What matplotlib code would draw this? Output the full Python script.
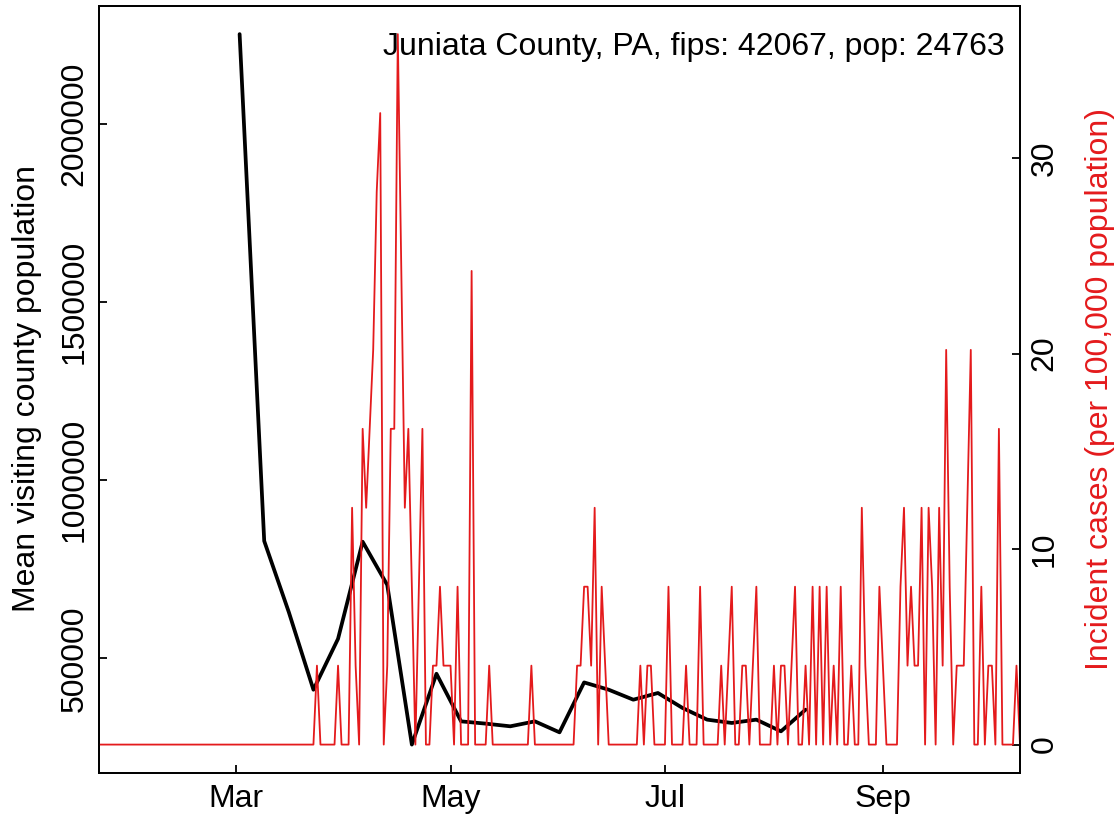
import numpy as np
import pandas as pd
import matplotlib
matplotlib.use('Agg')
import matplotlib.pyplot as plt
import matplotlib.dates as mdates

plt.rcParams['font.family'] = ['Liberation Sans', 'DejaVu Sans']

# county info
county_label = 'Juniata County, PA, fips: 42067, pop: 24763'
pop = 24763

# weekly mean visiting county population (Mondays from 2020-03-02)
visit_start = '2020-03-02'
visit_vals = [2252600, 829700, 630000, 412300, 555200, 827700, 706400, 258300,
              457100, 323500, 317100, 309600, 323500, 292700, 432800, 412300,
              384300, 403100, 361100, 328300, 319000, 328300, 295500, 356300]

# daily incident cases, 2020-01-22 .. 2020-10-10
case_start = '2020-01-22'
cases_jan = [0, 0, 0, 0, 0, 0, 0, 0, 0, 0]
cases_feb = [0, 0, 0, 0, 0, 0, 0, 0, 0, 0, 0, 0, 0, 0, 0, 0, 0, 0, 0, 0,
             0, 0, 0, 0, 0, 0, 0, 0, 0]
cases_mar = [0, 0, 0, 0, 0, 0, 0, 0, 0, 0, 0, 0, 0, 0, 0, 0, 0, 0, 0, 0,
             0, 0, 0, 1, 0, 0, 0, 0, 0, 1, 0]
cases_apr = [0, 0, 3, 1, 0, 4, 3, 4, 5, 7, 8, 0, 1, 4, 4, 9, 6, 3, 4, 2,
             0, 2, 4, 0, 0, 1, 1, 2, 1, 1]
cases_may = [1, 0, 2, 0, 0, 0, 6, 0, 0, 0, 0, 1, 0, 0, 0, 0, 0, 0, 0, 0,
             0, 0, 0, 1, 0, 0, 0, 0, 0, 0, 0]
cases_jun = [0, 0, 0, 0, 0, 1, 1, 2, 2, 1, 3, 0, 2, 1, 0, 0, 0, 0, 0, 0,
             0, 0, 0, 1, 0, 1, 1, 0, 0, 0]
cases_jul = [0, 2, 0, 0, 0, 0, 1, 0, 0, 0, 2, 0, 0, 0, 0, 0, 1, 0, 1, 2,
             0, 0, 1, 1, 0, 1, 2, 0, 0, 0, 0]
cases_aug = [1, 0, 1, 1, 0, 1, 2, 0, 0, 1, 0, 2, 0, 2, 0, 2, 0, 1, 0, 2,
             0, 0, 1, 0, 0, 3, 1, 0, 0, 0, 2]
cases_sep = [1, 0, 0, 0, 0, 2, 3, 1, 2, 1, 1, 3, 0, 3, 2, 0, 3, 1, 5, 2,
             0, 1, 1, 1, 3, 5, 0, 0, 2, 0]
cases_oct = [1, 1, 0, 4, 0, 0, 0, 0, 1, 0]

cases = (cases_jan + cases_feb + cases_mar + cases_apr + cases_may + cases_jun
         + cases_jul + cases_aug + cases_sep + cases_oct)
incid = np.array(cases) / pop * 100000  # per 100,000 population

visit_dates = pd.date_range(visit_start, periods=len(visit_vals), freq='7D')
case_dates = pd.date_range(case_start, periods=len(cases), freq='D')

red = '#E41A1C'
fs = 23

fig = plt.figure(figsize=(11.19, 8.22), dpi=100)
ax = fig.add_axes([99 / 1119, 1 - 773 / 822, 921 / 1119, 767.3 / 822])

ax.plot(visit_dates, visit_vals, color='black', lw=2.7,
        solid_joinstyle='round', solid_capstyle='round')

# R style 4% padding on y
lo, hi = min(visit_vals), max(visit_vals)
pad = (hi - lo) * 0.04
ax.set_ylim(lo - pad, hi + pad)
ax.set_xlim(case_dates[0], case_dates[-1])

yt = [500000, 1000000, 1500000, 2000000]
ax.set_yticks(yt, labels=[str(v) for v in yt], rotation=90, va='center')
xt = pd.to_datetime(['2020-03-01', '2020-05-01', '2020-07-01', '2020-09-01'])
ax.set_xticks(xt)
ax.xaxis.set_major_formatter(mdates.DateFormatter('%b'))

ax2 = ax.twinx()
ax2.plot(case_dates, incid, color=red, lw=1.3,
         solid_joinstyle='round', solid_capstyle='round')
pad2 = incid.max() * 0.04
ax2.set_ylim(-pad2, incid.max() + pad2)
ax2.set_xlim(case_dates[0], case_dates[-1])
ax2.set_yticks([0, 10, 20, 30], labels=['0', '10', '20', '30'], rotation=90, va='center')

for a in (ax, ax2):
    for s in a.spines.values():
        s.set_linewidth(1.3)
    a.tick_params(direction='in', length=6, width=1.3, labelsize=fs)
ax.tick_params(axis='y', pad=7)
ax.tick_params(axis='x', pad=8)
ax2.tick_params(axis='y', pad=7)

ax2.text(0.9837, 0.9357, county_label, transform=ax2.transAxes,
         ha='right', va='baseline', fontsize=fs)

fig.text(27 / 1119, 1 - 389 / 822, 'Mean visiting county population',
         rotation=90, ha='center', va='center', fontsize=fs)
fig.text(1100 / 1119, 1 - 389 / 822, 'Incident cases (per 100,000 population)',
         rotation=90, ha='center', va='center', fontsize=fs, color=red)

fig.savefig('out.png', dpi=100)
